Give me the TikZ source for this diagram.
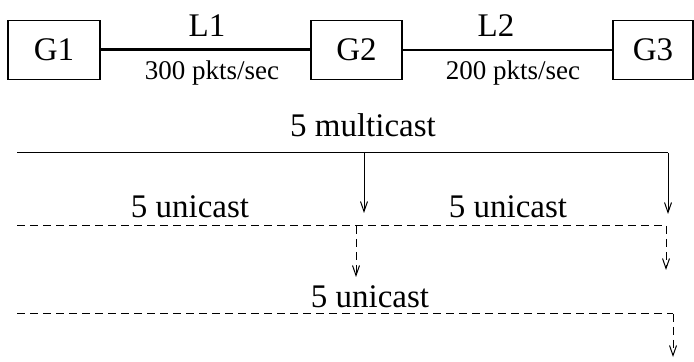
\documentclass[tikz,border=0pt]{standalone}
\usepackage{fontspec}
\setmainfont{Liberation Serif}
\usetikzlibrary{arrows.meta}
\begin{document}
\begin{tikzpicture}[x=0.5pt,y=-0.5pt,
  gw/.style={draw,line width=0.6pt,minimum height=29.5pt,inner sep=0pt,
    font=\fontsize{16.5}{20}\selectfont},
  big/.style={font=\fontsize{16.5}{20}\selectfont,anchor=base,inner sep=0pt},
  rate/.style={font=\fontsize{13.5}{16}\selectfont,anchor=base,inner sep=0pt},
  link/.style={line width=0.6pt},
  biglink/.style={line width=1.5pt},
  flow/.style={line width=0.5pt},
  uflow/.style={line width=0.5pt,dash pattern=on 4pt off 2.5pt},
  tip/.style={-{Straight Barb[length=5pt,width=3.5pt]}}]
\useasboundingbox (0,0) rectangle (694,362);

% gateways
\node[gw,minimum width=46pt] (g1) at (54,50) {G1};
\node[gw,minimum width=45.5pt] (g2) at (356.5,50) {G2};
\node[gw,minimum width=40pt] (g3) at (653,50) {G3};

% links
\draw[biglink] (g1.east) -- (g2.west);
\draw[link] (g2.east) -- (g3.west);
\node[big] (l1) at (207,37) {L1};
\node[rate] (r1) at (212,80) {300 pkts/sec};
\node[big] (l2) at (496,37) {L2};
\node[rate] (r2) at (513,80) {200 pkts/sec};

% multicast flow
\node[big] (mc) at (363,137) {5 multicast};
\coordinate (m0) at (17,153);
\coordinate (m1) at (364,153);
\coordinate (m2) at (668,153);
\coordinate (m1e) at (364,213);
\coordinate (m2e) at (668,214);
\draw[flow] (m0) -- (m2);
\draw[flow,tip] (m1) -- (m1e);
\draw[flow,tip] (m2) -- (m2e);

% unicast flows, first level
\node[big] (ua) at (190,218) {5 unicast};
\node[big] (ub) at (508,218) {5 unicast};
\coordinate (u0) at (17,226);
\coordinate (u1) at (356,226);
\coordinate (u2) at (666,226);
\coordinate (u1e) at (356,277);
\coordinate (u2e) at (666,270);
\draw[uflow] (u0) -- (u2);
\draw[uflow,tip] (u1) -- (u1e);
\draw[uflow,tip] (u2) -- (u2e);

% unicast flow, second level
\node[big] (uc) at (370,307) {5 unicast};
\coordinate (v0) at (17,314);
\coordinate (v1) at (673,314);
\coordinate (v1e) at (673,357);
\draw[uflow] (v0) -- (v1);
\draw[uflow,tip] (v1) -- (v1e);
\end{tikzpicture}
\end{document}
